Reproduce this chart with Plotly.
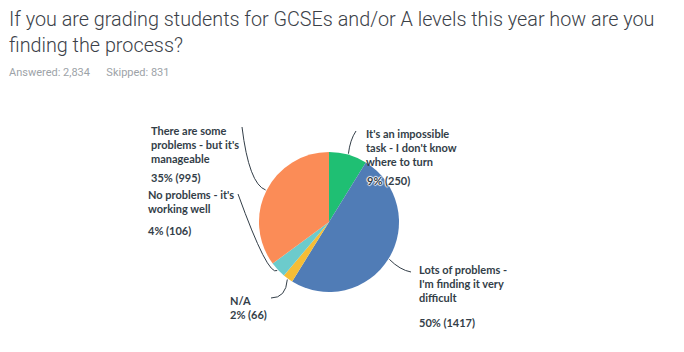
import math
import plotly.graph_objects as go

# ---- data ----
categories = [
    "It's an impossible task - I don't know where to turn",
    "Lots of problems - I'm finding it very difficult",
    "N/A",
    "No problems - it's working well",
    "There are some problems - but it's manageable",
]
counts = [250, 1417, 66, 106, 995]
percent_labels = ["9%", "50%", "2%", "4%", "35%"]
label_lines = [
    ["It's an impossible", "task - I don't know", "where to turn"],
    ["Lots of problems -", "I'm finding it very", "difficult"],
    ["N/A"],
    ["No problems - it's", "working well"],
    ["There are some", "problems - but it's", "manageable"],
]
answered = 2834
skipped = 831
colors = ["#1fbf73", "#507cb6", "#f6bd35", "#6ccbcc", "#fb8c57"]

W, H = 684, 352
cx, cy, R = 329, 222, 70

def px(x):
    return x / W

def py(y):
    return 1 - y / H

fig = go.Figure(go.Pie(
    labels=categories, values=counts, sort=False, direction="clockwise",
    rotation=0, textinfo="none", hoverinfo="label+value+percent",
    marker=dict(colors=colors, line=dict(width=0)),
    domain=dict(x=[px(cx - R), px(cx + R)], y=[py(cy + R), py(cy - R)]),
    showlegend=False,
))

# label layout: text block (x, first-line centre y), percent line (x, y),
# leader-line end point (lx, ly) and curve control point (qx, qy), in pixels
label_pos = [
    dict(x=364, y=133, pxx=365, pyy=180, lx=356, ly=131, qx=350, qy=140),
    dict(x=417, y=269, pxx=417, pyy=322, lx=411, ly=272, qx=400, qy=270),
    dict(x=228, y=300, pxx=228, pyy=314, lx=271, ly=298, qx=286, qy=298),
    dict(x=146, y=194, pxx=146, pyy=230, lx=238, ly=194, qx=268, qy=277),
    dict(x=149, y=130, pxx=149, pyy=177, lx=242, ly=127, qx=249, qy=184),
]

LBL_FONT = dict(family="Lato", size=11, color="#333e48", weight="bold")
LINE_H = 14

total = sum(counts)
cum = 0
shapes = []
annotations = []
for i, v in enumerate(counts):
    mid = (cum + v / 2) / total
    cum += v
    ang = mid * 2 * math.pi
    ex = cx + (R + 1) * math.sin(ang)
    ey = cy - (R + 1) * math.cos(ang)
    p = label_pos[i]
    path = f"M {px(p['lx'])} {py(p['ly'])} Q {px(p['qx'])} {py(p['qy'])} {px(ex)} {py(ey)}"
    shapes.append(dict(type="path", path=path, xref="paper", yref="paper",
                       line=dict(color="#333e48", width=1)))
    for j, line in enumerate(label_lines[i]):
        annotations.append(dict(x=px(p["x"]), y=py(p["y"] + j * LINE_H), xref="paper", yref="paper",
                                xanchor="left", yanchor="middle", align="left", showarrow=False,
                                text=line, font=LBL_FONT))
    pf = dict(LBL_FONT)
    if i == 0:
        pf["shadow"] = "1px 0 1px #fff, -1px 0 1px #fff, 0 1px 1px #fff, 0 -1px 1px #fff"
    annotations.append(dict(x=px(p["pxx"]), y=py(p["pyy"]), xref="paper", yref="paper",
                            xanchor="left", yanchor="middle", align="left", showarrow=False,
                            text=f"{percent_labels[i]} ({counts[i]})", font=pf))

annotations.append(dict(
    x=px(7), y=py(6), xref="paper", yref="paper", xanchor="left", yanchor="top",
    align="left", showarrow=False,
    text="If you are grading students for GCSEs and/or A levels this year how are you<br>finding the process?",
    font=dict(family="Roboto", size=19.8, color="#3b4148", weight=300)))
annotations.append(dict(
    x=px(7), y=py(72), xref="paper", yref="paper", xanchor="left", yanchor="middle",
    align="left", showarrow=False,
    text=f"Answered: {answered:,}&nbsp;&nbsp;&nbsp;&nbsp;&nbsp;&nbsp;Skipped: {skipped}",
    font=dict(family="Roboto", size=11, color="#9da3a8")))

fig.update_layout(
    width=W, height=H, margin=dict(l=0, r=0, t=0, b=0),
    paper_bgcolor="white", plot_bgcolor="white",
    shapes=shapes, annotations=annotations,
)
fig.write_html("out.html")
